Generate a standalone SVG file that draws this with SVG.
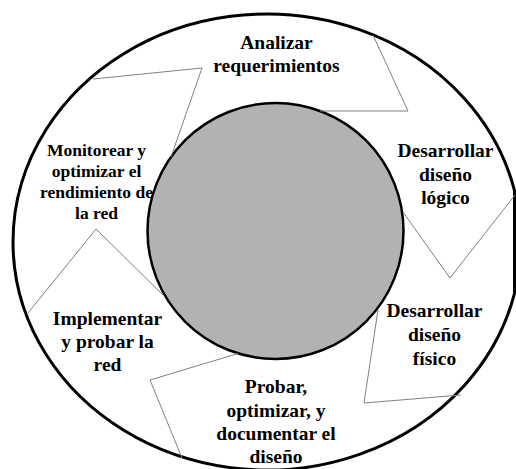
<svg xmlns="http://www.w3.org/2000/svg" width="516" height="469" viewBox="0 0 516 469">
  <style>
    .ring { fill: #ffffff; stroke: #000000; stroke-width: 3; }
    .hub { fill: #b2b2b2; stroke: #000000; stroke-width: 2.5; }
    .edge { fill: none; stroke: #808080; stroke-width: 1; stroke-linejoin: miter; }
    text { font-family: "Liberation Serif", Tinos, "Times New Roman", Times, "DejaVu Serif", serif; }
    .lbl { font-weight: bold; font-size: 19.5px; fill: #000000; text-anchor: middle; }
    .sm { font-size: 17.5px; }
  </style>
  <rect width="516" height="469" fill="#ffffff"/>

  <!-- outer ring of the cycle, its right side cut flat by the frame edge -->
  <g id="ring">
    <path class="ring" d="M 514.5 190.7 A 254 228 0 1 0 514.5 293.3 Z"/>
  </g>

  <!-- central hub -->
  <g id="hub">
    <circle class="hub" cx="275.5" cy="231" r="128"/>
  </g>

  <!-- outlines of the curved arrows between stages -->
  <g id="connectors">
    <polyline class="edge" points="93,79 202,68 171,157"/>
    <polyline class="edge" points="373,35 408,111 320,111"/>
    <polyline class="edge" points="403,212 450,278 515,195"/>
    <polyline class="edge" points="378,310 364,403 461,395"/>
    <polyline class="edge" points="238,353.5 150,380 182,458"/>
    <polyline class="edge" points="28,313 96,229 163,295"/>
  </g>

  <g id="analizar">
    <text class="lbl" x="276.5" y="49">Analizar</text>
    <text class="lbl" x="276.5" y="72">requerimientos</text>
  </g>

  <g id="disenio-logico">
    <text class="lbl" x="445.5" y="157">Desarrollar</text>
    <text class="lbl" x="445.5" y="181">diseño</text>
    <text class="lbl" x="445.5" y="204">lógico</text>
  </g>

  <g id="disenio-fisico">
    <text class="lbl" x="434.5" y="317">Desarrollar</text>
    <text class="lbl" x="434.5" y="341">diseño</text>
    <text class="lbl" x="434.5" y="365">físico</text>
  </g>

  <g id="probar">
    <text class="lbl" x="276" y="393">Probar,</text>
    <text class="lbl" x="276" y="416.5">optimizar, y</text>
    <text class="lbl" x="276" y="440">documentar el</text>
    <text class="lbl" x="276" y="463">diseño</text>
  </g>

  <g id="implementar">
    <text class="lbl" x="107.5" y="325">Implementar</text>
    <text class="lbl" x="107.5" y="348">y probar la</text>
    <text class="lbl" x="107.5" y="371">red</text>
  </g>

  <g id="monitorear">
    <text class="lbl sm" x="96.5" y="156">Monitorear y</text>
    <text class="lbl sm" x="96.5" y="177">optimizar el</text>
    <text class="lbl sm" x="96.5" y="198">rendimiento de</text>
    <text class="lbl sm" x="96.5" y="218.5">la red</text>
  </g>
</svg>
